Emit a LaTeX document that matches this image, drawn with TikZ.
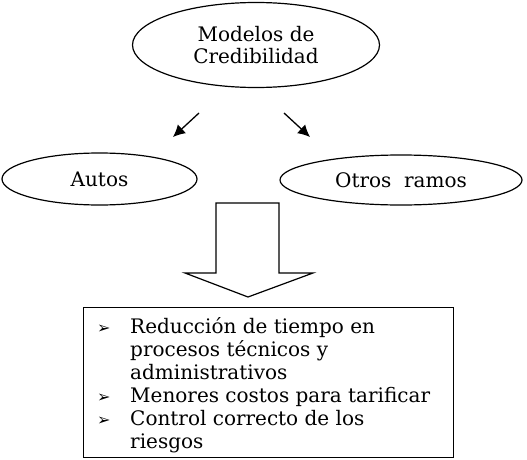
\documentclass[tikz,border=0pt]{standalone}
\usepackage{fontspec}
\setmainfont{DejaVu Serif}
\newfontfamily\simbolos{DejaVu Sans}
\usetikzlibrary{shapes.geometric,positioning,arrows.meta}
\newcommand{\vineta}{{\simbolos\fontsize{16}{16}\selectfont ➢}}

\begin{document}
\begin{tikzpicture}[x=1pt,y=-1pt,on grid,
    font=\fontsize{20}{22.5}\selectfont,
    elipse/.style={ellipse,draw,line width=1.2pt,inner sep=0pt,align=center},
    flechita/.style={-{Latex[length=12pt,width=12pt]},line width=1.3pt}]
            \useasboundingbox (0,0) rectangle (527,460);
            \node[elipse,minimum width=247pt,minimum height=85pt] (mod) at (256,45)
                {Modelos de\\Credibilidad};
            \node[elipse,minimum width=195pt,minimum height=52pt,
                below left=134pt and 156.5pt of mod] (autos) {Autos};
            \node[elipse,minimum width=242pt,minimum height=50pt,
                below right=135pt and 145pt of mod] (otros) {Otros~ ramos};
            \coordinate (m1) at (199,113);
            \coordinate (a1) at (173,137);
            \coordinate (m2) at (284,113);
            \coordinate (o1) at (310,137);
            \path[flechita]
            (m1) edge (a1)
            (m2) edge (o1);
            % flecha grande
            \draw[line width=1.2pt,line join=miter] (216,203) -- (279,203) -- (279,273) -- (313,273)
                -- (248,297) -- (185,273) -- (216,273) -- cycle;
            \node[draw,line width=1.2pt,anchor=north west,minimum width=370pt,
                minimum height=150pt] (ventajas) at (83,307) {};
            \node[anchor=base west,inner sep=0pt,font=\fontsize{20}{23}\selectfont] (lista) at (97,333)
                {\begin{tabular}[t]{@{}p{33pt}@{}l@{}}
                 \vineta & Reducción de tiempo en\\
                         & procesos técnicos y\\
                         & administrativos\\
                 \vineta & Menores costos para tarificar\\
                 \vineta & Control correcto de los\\
                         & riesgos
                 \end{tabular}};
        \end{tikzpicture}
\end{document}
